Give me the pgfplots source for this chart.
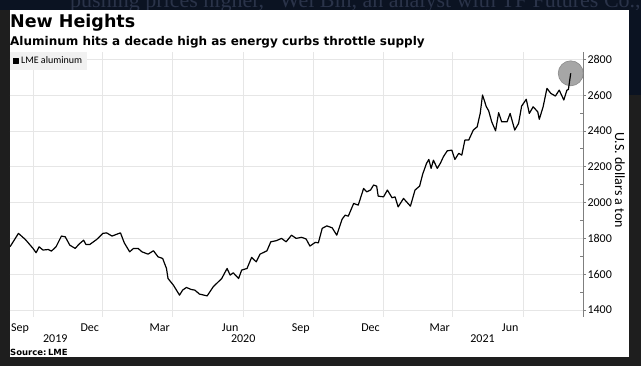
\documentclass[border=0pt]{standalone}
\usepackage{pgfplots}
\pgfplotsset{compat=1.18}
\usepackage{fontspec}
\setmainfont{Carlito}
\newfontfamily\dejavu{DejaVu Sans}
\newfontfamily\serifbg{Liberation Serif}
\definecolor{bgdark}{HTML}{1E1E1E}
\definecolor{navy}{HTML}{0B1322}
\definecolor{navytext}{HTML}{2A3349}
\definecolor{gridc}{HTML}{E6E6E6}
\definecolor{axisc}{HTML}{7F7F7F}
\definecolor{circfill}{HTML}{A6A6A6}
\definecolor{circdraw}{HTML}{8A8A8A}
\definecolor{legbg}{HTML}{F1F1F1}

\pgfplotstableread{
d v
-30 1753
-19 1828
-10 1794
0 1744
4 1720
8 1753
13 1735
20 1738
24 1729
30 1753
37 1813
42 1809
48 1762
55 1744
60 1768
66 1790
69 1766
74 1766
83 1794
91 1828
96 1831
103 1813
114 1831
119 1775
126 1725
131 1744
137 1744
142 1725
150 1712
157 1731
163 1697
169 1688
174 1632
176 1576
183 1539
191 1483
195 1511
200 1526
206 1515
211 1511
217 1489
227 1479
235 1530
246 1576
253 1632
257 1595
261 1608
268 1576
272 1623
279 1632
285 1694
291 1669
296 1712
305 1731
310 1781
317 1787
324 1800
330 1781
337 1818
343 1800
350 1806
356 1797
361 1757
368 1778
372 1775
377 1856
383 1870
390 1859
396 1818
403 1908
407 1930
411 1924
418 1995
424 1986
431 2079
435 2060
440 2070
444 2098
448 2092
450 2036
457 2032
462 2070
468 2027
472 2032
476 1976
483 2023
487 2004
492 1980
498 2070
504 2092
508 2159
513 2219
516 2241
519 2191
522 2237
527 2191
531 2219
535 2256
540 2289
546 2293
550 2241
555 2275
559 2265
563 2349
568 2349
574 2405
579 2423
583 2498
586 2601
591 2535
594 2513
598 2451
603 2401
607 2502
611 2451
618 2451
622 2498
628 2405
633 2442
637 2539
643 2577
647 2498
652 2535
658 2507
660 2465
665 2535
670 2638
675 2610
681 2595
686 2628
692 2573
696 2628
698 2632
701 2722
}\aluminum

\pgfplotstableread{
d v
701 2722
}\lastpoint

\begin{document}
\begin{tikzpicture}
\useasboundingbox (0bp,0bp) rectangle (641bp,366bp);
\fill[bgdark] (0bp,0bp) rectangle (641bp,366bp);
\fill[navy] (0bp,356bp) rectangle (641bp,366bp);
\fill[navy] (629bp,271bp) rectangle (641bp,366bp);
\begin{scope}
\clip (0bp,356bp) rectangle (641bp,366bp);
\node[anchor=base west, inner sep=0pt, text=navytext, font=\serifbg\fontsize{22bp}{24bp}\selectfont] at (70bp,358bp) {pushing prices higher,” Wei Bin, an analyst with TF Futures Co., said by};
\end{scope}
\fill[white] (10bp,9bp) rectangle (629bp,356bp);
\node[anchor=base west, inner sep=0pt, font=\dejavu\bfseries\fontsize{17.5bp}{20bp}\selectfont] at (10bp,338bp) {New Heights};
\node[anchor=base west, inner sep=0pt, font=\dejavu\bfseries\fontsize{12bp}{14bp}\selectfont] at (10bp,320bp) {Aluminum hits a decade high as energy curbs throttle supply};
\node[anchor=base west, inner sep=0pt, font=\dejavu\bfseries\fontsize{8.5bp}{10bp}\selectfont] at (10bp,11bp) {Source:\,LME};
\node[rotate=-90, inner sep=0pt, font=\fontsize{14bp}{16bp}\selectfont] at (620bp,186bp) {U.S. dollars a ton};
\begin{axis}[
  at={(10bp,49bp)}, anchor=south west,
  width=573bp, height=265bp, scale only axis,
  xmin=-30, xmax=717, ymin=1361, ymax=2841,
  clip marker paths=true,
  axis x line*=bottom, axis y line*=right,
  x axis line style={draw=none},
  y axis line style={draw=axisc, line width=0.8bp, -},
  xtick={0,91,182,274,366,457,547,639},
  xticklabels={Sep,Dec,Mar,Jun,Sep,Dec,Mar,Jun},
  x tick style={draw=none},
  xticklabel style={anchor=base, yshift=-11bp, xshift=-13bp, font=\fontsize{12bp}{14bp}\selectfont},
  xmajorgrids, ymajorgrids,
  grid style={draw=gridc, line width=0.8bp},
  ytick={1400,1600,...,2800},
  y tick style={draw=axisc, line width=0.8bp},
  tick align=outside, major tick length=3bp,
  yticklabel style={font=\fontsize{12bp}{14bp}\selectfont, xshift=-2bp, /pgf/number format/1000 sep={}},
  /pgf/number format/assume math mode=true,
  extra y ticks={1500,1700,...,2700},
  extra y tick labels={},
  extra y tick style={grid=none, tick align=inside},
  legend style={at={(0,1)}, anchor=north west, draw=none, fill=legbg,
    font=\fontsize{10bp}{12bp}\selectfont, inner sep=2.5bp},
  legend cell align=left,
  legend image code/.code={\fill[black] (0bp,-2.6bp) rectangle (5.2bp,2.6bp);},
  after end axis/.code={
    \node[anchor=base, inner sep=0pt, font=\fontsize{12bp}{14bp}\selectfont, yshift=-26bp] at (axis cs:29,1361) {2019};
    \node[anchor=base, inner sep=0pt, font=\fontsize{12bp}{14bp}\selectfont, yshift=-26bp] at (axis cs:274,1361) {2020};
    \node[anchor=base, inner sep=0pt, font=\fontsize{12bp}{14bp}\selectfont, yshift=-26bp] at (axis cs:586,1361) {2021};
  },
]
\addplot[only marks, mark=*, mark size=12.5bp, mark options={fill=circfill, draw=circdraw, line width=0.6bp}, forget plot] table[x=d, y=v] {\lastpoint};
\addplot[black, line width=1.2bp, line join=round] table[x=d, y=v] {\aluminum};
\addlegendentry{LME aluminum}
\end{axis}
\end{tikzpicture}
\end{document}
